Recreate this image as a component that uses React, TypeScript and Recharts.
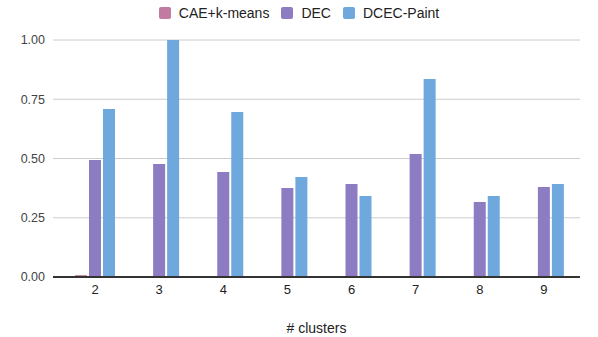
import { FC } from 'react';
import { Bar, BarChart, CartesianGrid, Label, Legend, XAxis, YAxis } from 'recharts';

const clusters = ['2', '3', '4', '5', '6', '7', '8', '9'];
const caeKmeans = [0.008, 0.004, 0.004, 0.004, 0, 0, 0, 0];
const dec = [0.494, 0.477, 0.443, 0.376, 0.392, 0.519, 0.316, 0.38];
const dcecPaint = [0.709, 1.0, 0.696, 0.422, 0.342, 0.835, 0.342, 0.392];
const yTicks = [0, 0.25, 0.5, 0.75, 1];

const series = [
  { key: 'cae', name: 'CAE+k-means', color: '#c27ba0' },
  { key: 'dec', name: 'DEC', color: '#8e7cc3' },
  { key: 'dcec', name: 'DCEC-Paint', color: '#6fa8dc' },
];

const data = clusters.map((c, i) => ({
  cluster: c,
  cae: caeKmeans[i],
  dec: dec[i],
  dcec: dcecPaint[i],
}));

const font = '"Liberation Sans", Arial, sans-serif';

const ChartLegend: FC = () => (
  <div style={{ display: 'flex', justifyContent: 'center', fontFamily: font, fontSize: 14, color: '#222' }}>
    {series.map((s, i) => (
      <div key={s.key} style={{ display: 'flex', alignItems: 'center', marginLeft: i === 0 ? 0 : 12 }}>
        <span style={{ width: 12, height: 12, borderRadius: 2, background: s.color, marginRight: 8, display: 'inline-block' }} />
        <span>{s.name}</span>
      </div>
    ))}
  </div>
);

const App: FC = () => {
  return (
    <div style={{ position: 'absolute', left: 0, top: 0, background: '#fff' }}>
      <BarChart
        width={598}
        height={337}
        data={data}
        margin={{ top: 16, right: 18, bottom: 0, left: 0 }}
        barGap={2}
        barCategoryGap={12}
      >
        <CartesianGrid vertical={false} stroke='#cccccc' />
        <Legend
          verticalAlign='top'
          height={24}
          content={() => <ChartLegend />}
          wrapperStyle={{ top: 5, left: 0, width: 598 }}
        />
        <XAxis
          dataKey='cluster'
          height={60}
          tickLine={false}
          axisLine={{ stroke: '#333333', strokeWidth: 2 }}
          padding={{ left: 10, right: 4 }}
          tick={{ fill: '#222', fontSize: 13, fontFamily: font }}
        >
          <Label value='# clusters' position='insideBottom' offset={4} style={{ fill: '#222', fontSize: 14, fontFamily: font }} />
        </XAxis>
        <YAxis
          width={53}
          domain={[0, 1]}
          ticks={yTicks}
          tickFormatter={(v: number) => v.toFixed(2)}
          tickLine={false}
          axisLine={false}
          tick={{ fill: '#444', fontSize: 12.5, fontFamily: font }}
        />
        {series.map((s) => (
          <Bar key={s.key} dataKey={s.key} name={s.name} fill={s.color} isAnimationActive={false} />
        ))}
      </BarChart>
    </div>
  );
};

export default App;
